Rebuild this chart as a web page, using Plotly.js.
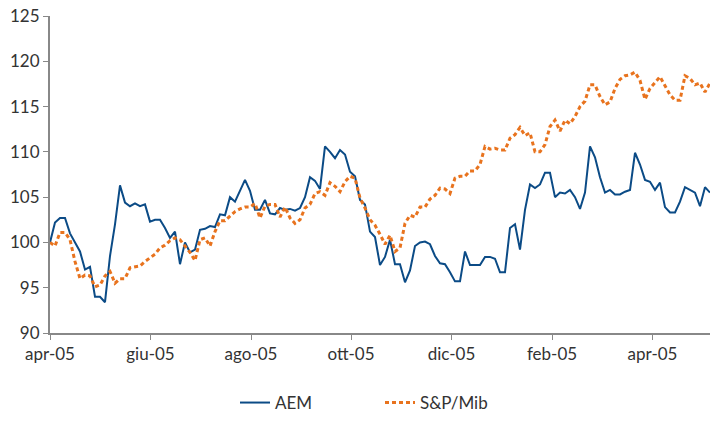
<!DOCTYPE html>
<html>
<head>
<meta charset="utf-8">
<script src="https://cdn.plot.ly/plotly-3.0.1.min.js"></script>
<style>
  html, body { margin: 0; padding: 0; background: #ffffff; }
  #chart { width: 710px; height: 421px; }
</style>
</head>
<body>
<div id="chart"></div>
<script>
// Sample index (equally spaced observations, apr-05 .. mag-06)
const tickLabels = ["apr-05", "giu-05", "ago-05", "ott-05", "dic-05", "feb-05", "apr-05"];
const tickPositions = [0, 20.1, 40.2, 60.2, 80.3, 100.4, 120.5];

const aem = [
  100.0, 102.2, 102.7, 102.7, 101.0, 100.0, 99.0, 97.0, 97.3, 94.0,
  94.0, 93.4, 98.5, 102.0, 106.3, 104.4, 104.0, 104.3, 104.0, 104.2,
  102.3, 102.5, 102.5, 101.6, 100.5, 101.2, 97.6, 100.0, 98.9, 99.2,
  101.4, 101.5, 101.8, 101.7, 103.1, 103.0, 105.0, 104.5, 105.8, 106.9,
  105.7, 103.6, 103.6, 104.7, 103.2, 103.1, 103.8, 103.6, 103.7, 103.5,
  103.8, 105.0, 107.2, 106.8, 105.9, 110.6, 110.0, 109.3, 110.2, 109.7,
  107.8, 107.3, 104.7, 104.2, 101.2, 100.6, 97.5, 98.4, 100.3, 97.6,
  97.6, 95.6, 96.9, 99.6, 100.0, 100.1, 99.8, 98.5, 97.7, 97.6,
  96.7, 95.7, 95.7, 99.0, 97.5, 97.5, 97.5, 98.4, 98.4, 98.2,
  96.7, 96.7, 101.6, 102.0, 99.2, 103.6, 106.4, 106.0, 106.4, 107.7,
  107.7, 105.0, 105.5, 105.4, 105.8, 105.0, 103.7, 105.5, 110.6, 109.4,
  107.2, 105.5, 105.8, 105.3, 105.3, 105.6, 105.8, 109.9, 108.6, 106.9,
  106.7, 105.8, 106.6, 103.9, 103.3, 103.3, 104.5, 106.1, 105.8, 105.5,
  104.0, 106.1, 105.5
];

const spmib = [
  100.0, 99.6, 101.1, 101.1, 100.3, 97.9, 96.0, 96.4, 96.3, 95.1,
  95.3, 96.3, 96.8, 95.5, 96.0, 96.0, 97.2, 97.3, 97.4, 97.9,
  98.3, 98.7, 99.4, 99.7, 100.2, 100.5, 100.3, 99.6, 98.9, 98.0,
  100.3, 100.5, 99.6, 101.2, 102.4, 102.4, 102.9, 103.4, 103.7, 103.9,
  103.9, 104.3, 102.7, 104.0, 104.2, 104.2, 102.8, 103.9, 102.7, 102.1,
  102.5, 103.8, 104.2, 105.4, 105.6, 105.2, 106.6, 106.2, 105.6, 106.7,
  107.3, 107.1, 104.9, 103.8, 102.5, 101.9, 100.9, 99.8, 100.8, 99.0,
  99.4, 102.1, 103.0, 102.8, 103.9, 103.9, 104.8, 105.2, 106.0, 105.9,
  105.4, 107.1, 107.3, 107.3, 107.9, 107.9, 108.6, 110.6, 110.3, 110.4,
  110.2, 110.2, 111.5, 111.9, 112.7, 111.8, 112.1, 110.0, 110.0, 110.8,
  112.8, 113.5, 112.3, 113.5, 113.1, 113.9, 115.0, 115.6, 117.4, 117.4,
  116.1, 115.2, 115.5, 117.0, 118.0, 118.4, 118.5, 118.8, 117.9, 115.8,
  117.0, 117.7, 118.3, 117.3, 116.3, 115.7, 115.7, 118.4, 118.1, 117.4,
  117.6, 116.6, 117.6
];

const xIdx = aem.map((_, i) => i);

const traces = [
  {
    x: xIdx, y: aem, name: "AEM", type: "scatter", mode: "lines",
    line: { color: "#0b4b86", width: 2 }
  },
  {
    x: xIdx, y: spmib, name: "S&P/Mib", type: "scatter", mode: "lines",
    line: { color: "#e8731e", width: 3, dash: "4px,3px" }
  }
];

const layout = {
  width: 710, height: 421,
  margin: { l: 50, r: 0, t: 16, b: 87 },
  paper_bgcolor: "#ffffff", plot_bgcolor: "#ffffff",
  font: { family: "Lato, 'Open Sans', sans-serif", size: 17, color: "#333333" },
  showlegend: true,
  legend: {
    orientation: "h", x: 0.5, xanchor: "center", y: -0.22, yanchor: "middle",
    font: { size: 17, color: "#333333" }, entrywidth: 100
  },
  xaxis: {
    range: [0, 132], tickmode: "array", tickvals: tickPositions, ticktext: tickLabels,
    showgrid: false, zeroline: false, showline: true, linecolor: "#888888", linewidth: 2,
    ticks: "outside", ticklen: 5, tickcolor: "#888888", tickwidth: 1
  },
  yaxis: {
    range: [90, 125], dtick: 5, tick0: 90,
    showgrid: false, zeroline: false, showline: true, linecolor: "#888888", linewidth: 2,
    ticks: "outside", ticklen: 5, tickcolor: "#888888", tickwidth: 1
  }
};

Plotly.newPlot("chart", traces, layout, { staticPlot: true, displayModeBar: false });
</script>
</body>
</html>
